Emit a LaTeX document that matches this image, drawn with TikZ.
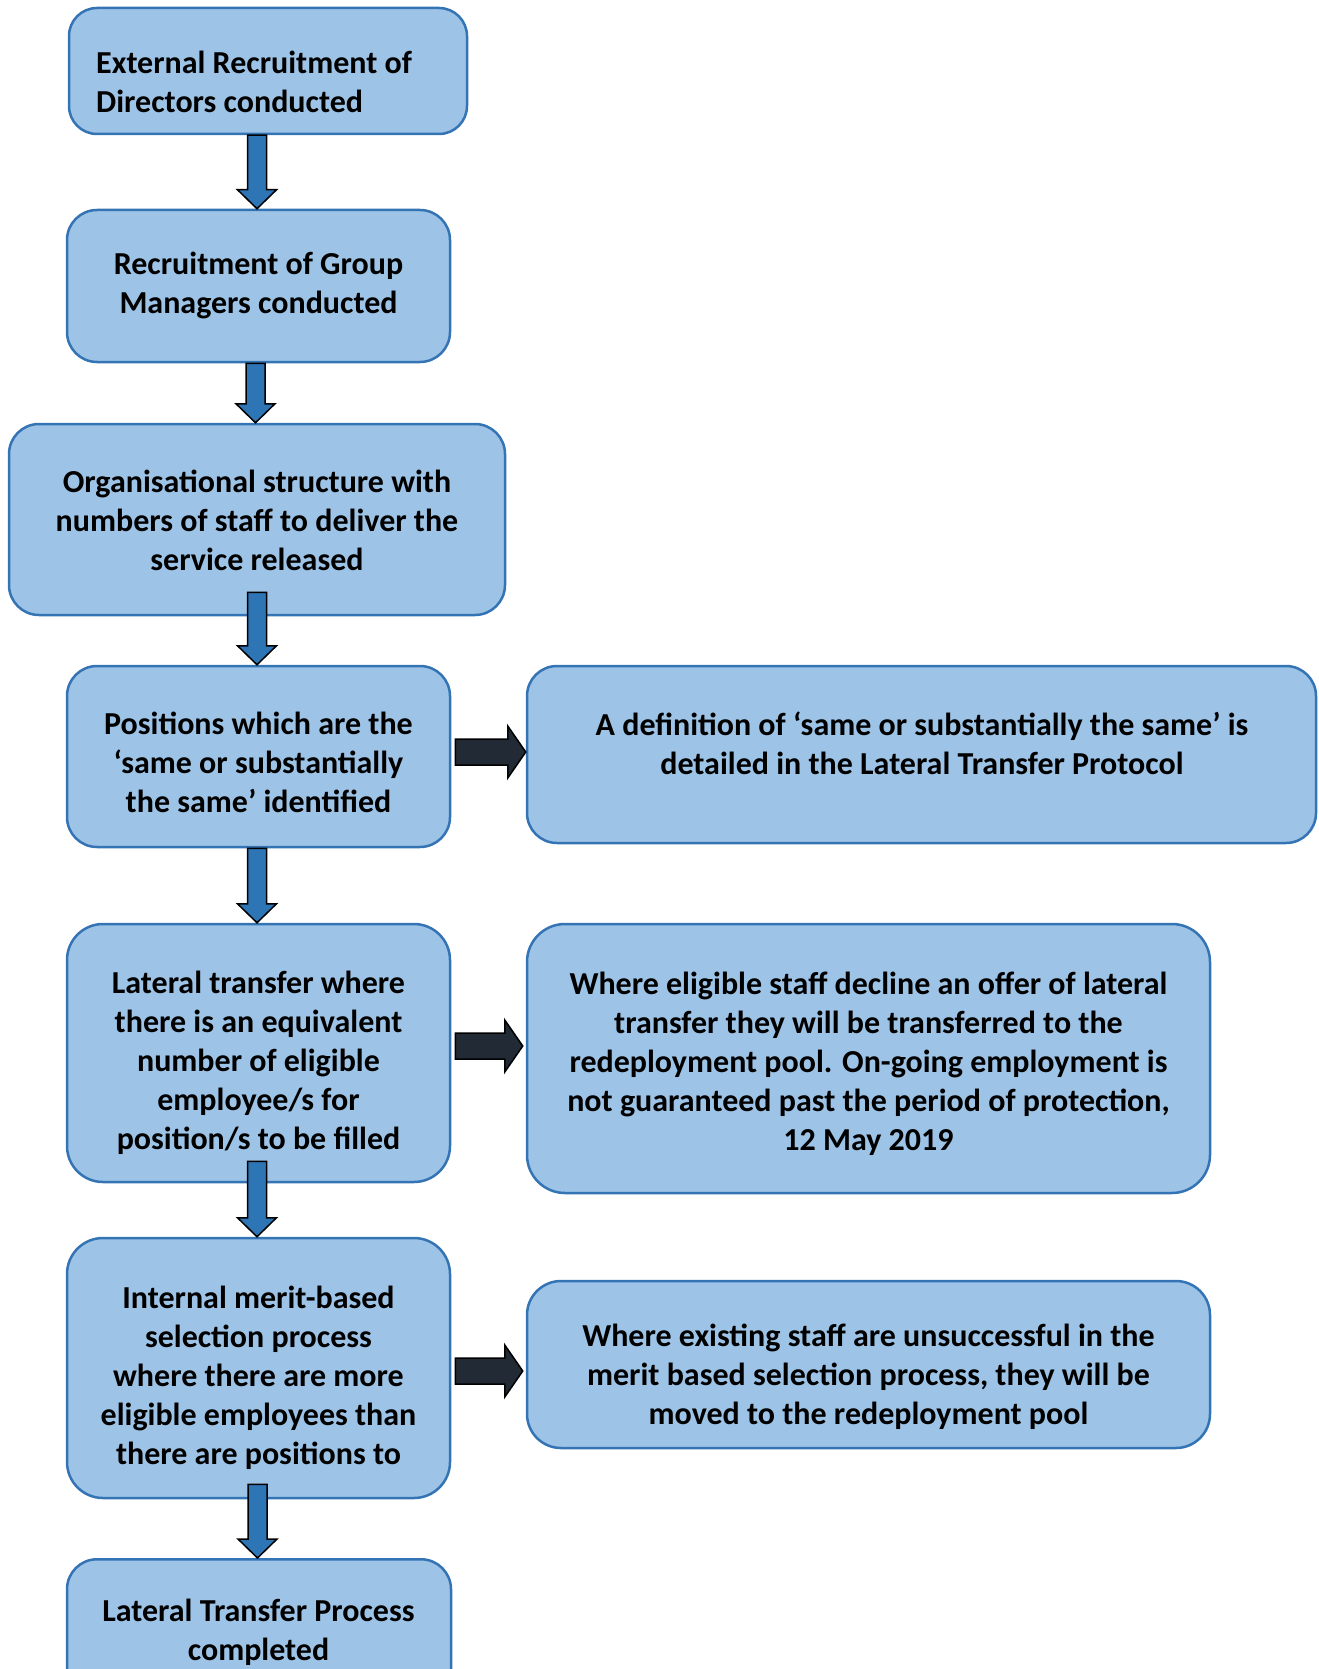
\documentclass[tikz,border=0pt]{standalone}
\usepackage{fontspec}
\setmainfont{Carlito}
\usetikzlibrary{calc}
\definecolor{boxfill}{HTML}{9DC3E6}
\definecolor{boxline}{HTML}{3474B5}
\definecolor{dnfill}{HTML}{2E75B6}
\definecolor{rtfill}{HTML}{222A35}
\tikzset{
  flowbox/.style={draw=boxline, fill=boxfill, line width=2.5pt, rounded corners=30pt, inner sep=0pt},
  boxtext/.style={align=center, inner sep=0pt, font=\fontsize{32}{39}\selectfont\bfseries, text=black},
  dnarr/.style={fill=dnfill, draw=black, line width=1.5pt, line join=miter},
  rtarr/.style={fill=rtfill, draw=black, line width=1.5pt, line join=miter}
}
% #1 source, #2 target, #3 start offset (above source south)
\newcommand\dnarrow[3]{%
  \path[dnarr] let \p1=(#1.south), \p2=(#2.north) in
   (\x2-11pt,\y1+#3) -- (\x2+8pt,\y1+#3) -- (\x2+8pt,\y2+19pt) -- (\x2+18pt,\y2+19pt)
   -- (\x2-1.5pt,\y2) -- (\x2-21pt,\y2+19pt) -- (\x2-11pt,\y2+19pt) -- cycle;}
% #1 source, #2 target, #3 vertical offset (up), #4 gap before target
\newcommand\rtarrow[4]{%
  \path[rtarr] let \p1=(#1.east), \p2=(#2.west) in
   (\x1+4pt,\y1+#3+13pt) -- (\x2-#4-18pt,\y1+#3+13pt) -- (\x2-#4-18pt,\y1+#3+26pt)
   -- (\x2-#4,\y1+#3) -- (\x2-#4-18pt,\y1+#3-26pt) -- (\x2-#4-18pt,\y1+#3-13pt)
   -- (\x1+4pt,\y1+#3-13pt) -- cycle;}
\begin{document}
\begin{tikzpicture}[x=1pt,y=-1pt]
\useasboundingbox (0,0) rectangle (1318,1669);
% boxes
\node[flowbox, minimum width=398pt, minimum height=126pt, rounded corners=28pt] (b1) at (268,71) {};
\node[flowbox, minimum width=383pt, minimum height=152pt] (b2) at (258.5,286) {};
\node[flowbox, minimum width=496pt, minimum height=191pt] (b3) at (257,519.5) {};
\node[flowbox, minimum width=383pt, minimum height=181pt] (b4) at (258.5,756.5) {};
\node[flowbox, minimum width=789pt, minimum height=177pt] (r4) at (921.5,754.5) {};
\node[flowbox, minimum width=383pt, minimum height=258pt, rounded corners=36pt] (b5) at (258.5,1053) {};
\node[flowbox, minimum width=683pt, minimum height=269pt, rounded corners=38pt] (r5) at (868.5,1058.5) {};
\node[flowbox, minimum width=383pt, minimum height=260pt, rounded corners=36pt] (b6) at (258.5,1368) {};
\node[flowbox, minimum width=683pt, minimum height=167pt, rounded corners=34pt] (r6) at (868.5,1364.5) {};
\node[flowbox, minimum width=384pt, minimum height=160pt, anchor=north] (b7) at (259,1558) {};
% texts
\node[boxtext, align=left, anchor=west] (t1) at (96,81.5) {External Recruitment of\\Directors conducted};
\node[boxtext] (t2) at (258.5,285.5) {Recruitment of Group\\Managers conducted};
\node[boxtext] (t3) at (257,520) {Organisational structure with\\numbers of staff to deliver the\\service released};
\node[boxtext] (t4) at (258.5,762.5) {Positions which are the\\‘same or substantially\\the same’ identified};
\node[boxtext] (u4) at (922,743) {A definition of ‘same or substantially the same’ is\\detailed in the Lateral Transfer Protocol};
\node[boxtext] (t5) at (258.5,1063) {Lateral transfer where\\there is an equivalent\\number of eligible\\employee/s for\\position/s to be filled};
\node[boxtext] (u5) at (868.5,1064) {Where eligible staff decline an offer of lateral\\transfer they will be transferred to the\\redeployment pool. On-going employment is\\not guaranteed past the period of protection,\\12 May 2019};
\node[boxtext] (t6) at (258.5,1377.5) {Internal merit-based\\selection process\\where there are more\\eligible employees than\\there are positions to};
\node[boxtext] (u6) at (868.5,1376.5) {Where existing staff are unsuccessful in the\\merit based selection process, they will be\\moved to the redeployment pool};
\node[boxtext] (t7) at (258.5,1632.5) {Lateral Transfer Process\\completed};
% connectors
\dnarrow{b1}{b2}{0pt}
\dnarrow{b2}{b3}{0pt}
\dnarrow{b3}{b4}{24pt}
\dnarrow{b4}{b5}{0pt}
\dnarrow{b5}{b6}{22pt}
\dnarrow{b6}{b7}{15pt}
\rtarrow{b4}{r4}{4.5pt}{0pt}
\rtarrow{b5}{r5}{7pt}{3pt}
\rtarrow{b6}{r6}{-3pt}{3pt}
\end{tikzpicture}
\end{document}
